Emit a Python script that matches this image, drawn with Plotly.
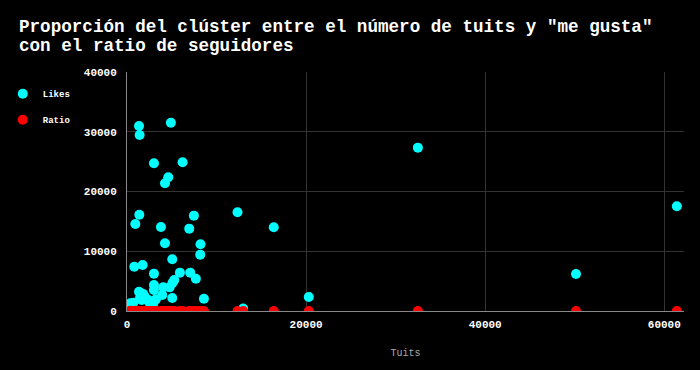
import plotly.graph_objects as go

tuits = [1340, 4900, 1410, 3010, 6210, 4610, 4240, 1375, 7470, 930,
         3790, 6950, 4240, 8210, 8180, 5055, 815, 1750, 5910, 7060,
         3010, 7690, 5280, 5090, 3010, 4760, 4050, 3010, 1340, 1820,
         3940, 5055, 8590, 3230, 2380, 1640, 2565, 370, 700, 2010,
         1450, 2200, 12340, 16390, 12970, 32480, 50140, 61400, 20300, 1500,
         1900, 2900]
likes = [30970, 31520, 29460, 24720, 24890, 22380, 21370, 16120, 15960, 14560,
         14060, 13780, 11330, 11160, 9430, 8650, 7420, 7700, 6420, 6420,
         6250, 5410, 5190, 4740, 4350, 3960, 3960, 3515, 3230, 2850,
         2680, 2180, 2060, 1950, 1840, 1840, 1290, 1290, 1390, 2290,
         2120, 1840, 16520, 14010, 400, 27340, 6190, 17520, 2340, 2960,
         2600, 1100]
ratio = [12.5, 3.1, 8.4, 1.2, 0.8, 2.6, 4.9, 0.6, 1.7, 22.0,
         0.9, 3.3, 1.5, 0.4, 2.2, 6.8, 15.1, 0.7, 1.1, 2.9,
         0.5, 0.3, 4.2, 1.8, 0.6, 2.4, 0.9, 1.3, 7.7, 0.5,
         3.6, 0.8, 0.2, 1.4, 0.6, 9.2, 0.4, 30.5, 5.5, 1.0,
         2.7, 0.7, 0.9, 0.3, 0.5, 0.6, 0.2, 0.4, 1.1, 3.8,
         0.9, 0.5]
title_lines = ["Proporción del clúster entre el número de tuits y \"me gusta\"",
               "con el ratio de seguidores"]

FONT = "Liberation Mono, Courier New, monospace"
W, H = 700, 370
ML, MR, MT, MB = 127, 16, 72, 59
PW, PH = W - ML - MR, H - MT - MB

fig = go.Figure()
fig.add_trace(go.Scatter(x=tuits, y=likes, mode="markers", name="Likes",
                         legendgroup="a",
                         marker=dict(color="#00FFFF", size=10)))
fig.add_trace(go.Scatter(x=tuits, y=ratio, mode="markers", name="Ratio",
                         legendgroup="b",
                         marker=dict(color="#FF0000", size=10)))

for i, (line, cy) in enumerate(zip(title_lines, [27, 46])):
    fig.add_annotation(text=line, xref="paper", yref="paper",
                       x=(18 - ML) / PW, xanchor="left",
                       y=(H - MB - cy) / PH, yanchor="middle",
                       showarrow=False, borderpad=0,
                       font=dict(family=FONT, size=17.6, color="#FFFFFF", weight="bold"))

fig.update_layout(
    width=W, height=H,
    margin=dict(l=ML, r=MR, t=MT, b=MB, autoexpand=False),
    paper_bgcolor="#000000", plot_bgcolor="#000000",
    legend=dict(x=-0.223, xanchor="left", y=0.97, yanchor="top",
                font=dict(family=FONT, size=9, color="#FFFFFF", weight="bold"),
                traceorder="grouped", tracegroupgap=7, bgcolor="rgba(0,0,0,0)"),
    xaxis=dict(range=[0, 62200], tickvals=[0, 20000, 40000, 60000], tickformat="d",
               showgrid=True, gridcolor="#333333", zeroline=False,
               showline=True, linecolor="#888888", linewidth=1, ticklabelstandoff=3,
               tickfont=dict(family=FONT, size=11, color="#FFFFFF", weight="bold"),
               title=dict(text="Tuits", standoff=18,
                          font=dict(family=FONT, size=10, color="#AAAAAA"))),
    yaxis=dict(range=[0, 40000], tickvals=[0, 10000, 20000, 30000, 40000], tickformat="d",
               showgrid=True, gridcolor="#333333", zeroline=False,
               showline=True, linecolor="#888888", linewidth=1, ticklabelstandoff=7,
               tickfont=dict(family=FONT, size=11, color="#FFFFFF", weight="bold")),
)

fig.write_html("out.html")
